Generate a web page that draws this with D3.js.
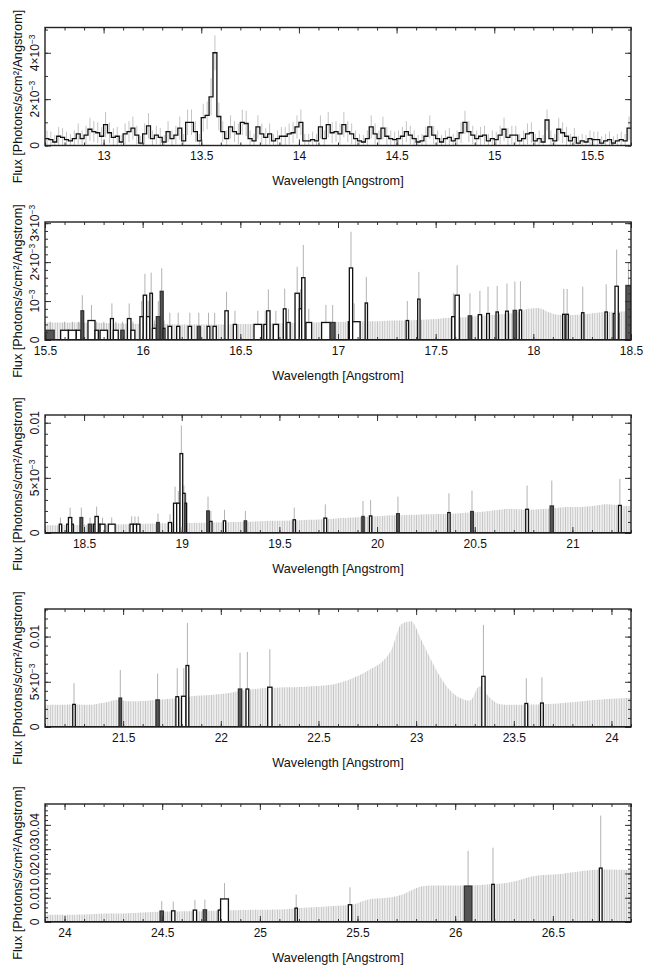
<!DOCTYPE html>
<html>
<head>
<meta charset="utf-8">
<script src="https://cdn.jsdelivr.net/npm/d3@7"></script>
<style>
  body { margin: 0; background: #fff; }
</style>
</head>
<body>
<div id="chart"></div>
<script>
// wavelength range of each panel (Angstrom)
const ranges = [[12.7, 15.7], [15.5, 18.5], [18.3, 21.3], [21.1, 24.1], [23.9, 26.9]];
// flux axis top, in units of 1e-3 photons/s/cm2/A
const yMax = [5.09, 3.03, 10.7, 13.05, 48.6];
const yMinor = [1, 0.2, 1, 1, 2];
const yLabelVals = [[0, 2, 4], [0, 1, 2, 3], [0, 5, 10], [0, 5, 10], [0, 10, 20, 30, 40]];
const yLabelText = [
  ['0', '2×10^−3', '4×10^−3'],
  ['0', '10^−3', '2×10^−3', '3×10^−3'],
  ['0', '5×10^−3', '0.01'],
  ['0', '5×10^−3', '0.01'],
  ['0', '0.01', '0.02', '0.03', '0.04']
];

// panel 1: full histogram, 0.02 A bins starting at 12.7
const p1Start = 12.7, p1Bin = 0.02;
const p1Flux = [
  0.3,0.25,0.15,0.4,0.35,0.25,0.2,0.3,0.5,0.3,
  0.45,0.7,0.6,0.55,0.4,0.9,0.55,0.35,0.4,0.15,
  0.5,0.6,0.75,0.45,0.1,0.5,0.85,0.3,0.45,0.35,
  0.15,0.6,0.3,0.45,0.75,0.2,1.0,1.0,0.6,0.2,
  1.2,1.3,2.1,4.0,1.25,0.6,0.3,0.8,0.6,0.5,
  1.0,0.95,0.3,0.2,0.8,0.5,0.35,0.5,0.2,0.3,
  0.4,0.4,0.5,0.55,0.8,1.0,0.2,0.2,0.25,0.2,
  0.8,0.3,0.9,0.55,0.6,0.5,0.9,0.6,0.5,0.3,
  0.2,0.15,0.3,0.8,0.5,0.3,0.75,0.4,0.3,0.25,
  0.3,0.4,0.6,0.45,0.3,0.15,0.2,0.4,0.8,0.45,
  0.3,0.15,0.3,0.35,0.2,0.3,0.55,1.0,0.6,0.45,
  0.3,0.4,0.45,0.2,0.3,0.25,0.45,0.7,0.35,0.45,
  0.45,0.2,0.3,0.5,0.55,0.2,0.3,0.15,1.1,0.3,
  0.2,0.7,0.55,0.4,0.2,0.35,0.1,0.2,0.15,0.3,
  0.25,0.25,0.1,0.2,0.25,0.1,0.2,0.25,0.2,0.75
];
const p1Err = [
  0.35,0.35,0.3,0.4,0.4,0.35,0.3,0.35,0.45,0.35,
  0.4,0.5,0.45,0.45,0.4,0.55,0.45,0.4,0.4,0.3,
  0.45,0.45,0.5,0.4,0.3,0.45,0.55,0.35,0.4,0.4,
  0.3,0.45,0.35,0.4,0.5,0.3,0.55,0.55,0.45,0.3,
  0.6,0.6,0.8,0.75,0.6,0.45,0.35,0.5,0.45,0.45,
  0.55,0.55,0.35,0.3,0.5,0.45,0.4,0.45,0.3,0.35,
  0.4,0.4,0.45,0.45,0.5,0.55,0.3,0.3,0.35,0.3,
  0.5,0.35,0.55,0.45,0.45,0.45,0.55,0.45,0.45,0.35,
  0.3,0.3,0.35,0.5,0.45,0.35,0.5,0.4,0.35,0.35,
  0.35,0.4,0.45,0.4,0.35,0.3,0.3,0.4,0.5,0.4,
  0.35,0.3,0.35,0.4,0.3,0.35,0.45,0.5,0.45,0.4,
  0.35,0.4,0.4,0.3,0.35,0.35,0.4,0.5,0.4,0.4,
  0.4,0.3,0.35,0.45,0.45,0.3,0.35,0.3,0.45,0.35,
  0.3,0.5,0.45,0.4,0.3,0.4,0.3,0.3,0.3,0.35,
  0.35,0.35,0.3,0.3,0.35,0.3,0.3,0.35,0.3,0.5
];

// panels 2-5: upper limit envelope of empty bins, 0.05 A steps from panel start
const envStep = 0.05;
const env2 = [
  0.45,0.45,0.45,0.45,0.44,0.44,0.43,0.43,0.42,0.42,
  0.42,0.41,0.41,0.40,0.40,0.40,0.40,0.40,0.40,0.41,
  0.41,0.42,0.42,0.43,0.43,0.44,0.44,0.45,0.46,0.46,
  0.47,0.47,0.48,0.48,0.49,0.50,0.50,0.51,0.52,0.53,
  0.55,0.57,0.58,0.60,0.62,0.64,0.66,0.68,0.72,0.80,
  0.82,0.72,0.65,0.64,0.65,0.67,0.70,0.72,0.73,0.74
];
const env3 = [
  0.7,0.7,0.72,0.72,0.74,0.74,0.76,0.78,0.8,0.82,
  0.84,0.86,0.88,0.9,0.9,0.92,0.94,0.96,0.98,1.0,
  1.02,1.05,1.08,1.1,1.12,1.15,1.18,1.2,1.25,1.3,
  1.35,1.4,1.45,1.5,1.55,1.6,1.62,1.65,1.68,1.7,
  1.72,1.75,1.8,1.85,1.9,2.0,2.1,2.2,2.15,2.1,
  2.15,2.2,2.3,2.35,2.35,2.4,2.5,2.6,2.55,2.45
];
const env4 = [
  2.45,2.45,2.5,2.5,2.45,2.6,2.8,3.0,2.85,2.85,
  2.9,3.0,3.1,3.15,3.3,3.45,3.5,3.6,3.7,3.9,
  4.1,4.2,4.3,4.35,4.4,4.4,4.45,4.5,4.6,4.7,
  5.0,5.4,5.9,6.5,7.2,8.6,11.4,11.7,9.7,7.5,
  5.5,4.0,3.2,2.9,4.5,3.3,2.55,2.45,2.45,2.5,
  2.5,2.55,2.6,2.7,2.8,2.9,3.0,3.1,3.15,3.2
];
const env5 = [
  3.0,3.0,3.0,3.1,3.2,3.4,3.5,3.5,3.6,3.8,
  4.0,4.2,4.3,4.3,4.4,4.4,4.5,4.6,4.7,4.8,
  4.9,5.0,5.0,5.1,5.3,5.6,5.9,6.1,6.3,6.6,
  6.8,7.1,8.5,9.6,9.8,10.2,11.2,13.0,14.6,15.0,
  15.0,15.0,15.0,15.0,15.2,15.5,15.8,16.3,17.2,18.4,
  19.2,19.5,19.7,20.2,20.7,21.2,21.5,21.6,21.5,21.5
];

// detected bins: [from, to, flux, error top, kind]
const det2 = [
  [15.505,15.547,0.25,0.47,'g'], [15.58,15.62,0.25,0.47,'k'], [15.62,15.66,0.25,0.47,'k'],
  [15.66,15.684,0.25,0.47,'k'], [15.684,15.698,0.75,1.15,'g'], [15.72,15.756,0.5,0.9,'k'],
  [15.756,15.773,0.25,0.47,'k'], [15.782,15.82,0.25,0.47,'k'], [15.835,15.85,0.55,0.94,'k'],
  [15.85,15.875,0.25,0.47,'k'], [15.888,15.905,0.25,0.47,'g'], [15.922,15.94,0.55,0.94,'k'],
  [15.94,15.96,0.25,0.47,'k'], [15.986,16.003,0.6,1.0,'k'], [16.003,16.02,1.15,1.7,'k'],
  [16.02,16.037,0.6,1.0,'k'], [16.037,16.05,1.2,1.73,'k'], [16.05,16.07,0.3,0.5,'k'],
  [16.07,16.09,0.6,1.0,'g'], [16.09,16.105,1.25,1.84,'g'], [16.105,16.114,0.3,0.5,'k'],
  [16.13,16.148,0.35,0.7,'k'], [16.174,16.19,0.35,0.7,'k'], [16.233,16.25,0.35,0.7,'k'],
  [16.28,16.295,0.35,0.7,'g'], [16.33,16.344,0.35,0.7,'k'], [16.36,16.377,0.35,0.7,'k'],
  [16.421,16.438,0.75,1.24,'k'], [16.464,16.481,0.4,0.75,'k'], [16.57,16.609,0.4,0.75,'k'],
  [16.62,16.635,0.4,0.75,'k'], [16.635,16.652,0.75,1.3,'k'], [16.669,16.695,0.4,0.75,'k'],
  [16.72,16.734,0.8,1.32,'k'], [16.738,16.755,0.45,0.8,'k'], [16.78,16.802,1.2,1.88,'k'],
  [16.802,16.814,0.8,1.3,'k'], [16.814,16.831,1.6,2.44,'k'], [16.836,16.865,0.45,0.8,'k'],
  [16.916,16.96,0.45,0.9,'k'], [16.96,16.985,0.45,0.9,'g'], [17.053,17.113,0.47,0.94,'k'],
  [17.058,17.075,1.85,2.78,'k'], [17.139,17.151,0.95,1.62,'k'], [17.349,17.361,0.5,1.0,'k'],
  [17.408,17.42,1.05,1.75,'k'], [17.582,17.599,0.6,1.2,'k'], [17.599,17.621,1.15,1.92,'k'],
  [17.667,17.684,0.62,1.2,'g'], [17.718,17.735,0.65,1.26,'k'], [17.761,17.775,0.68,1.37,'k'],
  [17.809,17.821,0.72,1.39,'k'], [17.858,17.872,0.74,1.45,'k'], [17.897,17.914,0.76,1.5,'g'],
  [17.928,17.94,0.77,1.51,'k'], [18.15,18.162,0.66,1.31,'k'], [18.167,18.179,0.66,1.31,'k'],
  [18.247,18.259,0.7,1.37,'k'], [18.367,18.379,0.72,1.43,'k'], [18.409,18.438,0.68,1.3,'k'],
  [18.418,18.435,1.38,2.32,'k'], [18.474,18.5,1.4,2.0,'g']
];
const det3 = [
  [18.373,18.385,0.8,1.4,'k'], [18.411,18.445,0.8,1.5,'k'], [18.42,18.437,1.4,2.3,'k'],
  [18.479,18.493,1.4,2.3,'g'], [18.522,18.539,0.8,1.4,'g'], [18.548,18.582,0.8,1.4,'k'],
  [18.556,18.573,1.5,2.4,'k'], [18.582,18.607,0.8,1.4,'k'], [18.624,18.659,0.8,1.4,'k'],
  [18.735,18.752,0.8,1.5,'k'], [18.752,18.769,0.8,1.5,'k'], [18.769,18.786,0.8,1.5,'k'],
  [18.872,18.885,0.95,1.75,'g'], [18.932,18.948,0.95,1.7,'k'], [18.958,18.974,2.7,4.2,'k'],
  [18.974,18.991,2.7,3.8,'k'], [18.991,19.005,7.2,9.75,'k'], [19.005,19.017,3.6,4.3,'k'],
  [19.017,19.025,2.7,3.6,'k'], [19.128,19.141,2.0,3.3,'g'], [19.143,19.155,1.05,2.0,'k'],
  [19.213,19.225,1.1,2.1,'k'], [19.32,19.332,1.1,2.0,'g'], [19.57,19.582,1.2,2.3,'k'],
  [19.728,19.742,1.35,2.6,'k'], [19.922,19.934,1.5,2.9,'g'], [19.961,19.973,1.55,3.0,'k'],
  [20.1,20.114,1.75,3.3,'g'], [20.362,20.374,1.85,3.6,'k'], [20.479,20.493,1.95,3.85,'g'],
  [20.761,20.775,2.15,4.3,'k'], [20.886,20.903,2.45,4.75,'g'], [21.236,21.25,2.5,4.9,'k']
];
const det4 = [
  [21.242,21.255,2.5,4.85,'k'], [21.479,21.492,3.2,6.3,'g'], [21.668,21.685,3.0,5.9,'g'],
  [21.77,21.784,3.35,6.5,'k'], [21.799,21.822,3.4,6.5,'k'], [21.822,21.836,6.8,11.5,'k'],
  [22.09,22.107,4.2,8.2,'g'], [22.129,22.143,4.2,8.3,'k'], [22.24,22.262,4.4,8.6,'k'],
  [23.336,23.353,5.6,11.3,'k'], [23.557,23.571,2.6,5.4,'k'], [23.637,23.651,2.65,5.5,'k']
];
const det5 = [
  [24.489,24.506,4.5,8.6,'g'], [24.548,24.565,4.6,8.4,'k'], [24.659,24.676,4.9,9.1,'k'],
  [24.71,24.727,5.0,9.2,'g'], [24.787,24.799,4.9,5.5,'k'], [24.799,24.839,9.5,16,'k'],
  [25.18,25.192,5.7,11.3,'k'], [25.453,25.47,7.1,14.3,'k'], [26.047,26.085,14.8,29.3,'g'],
  [26.187,26.2,15.5,30.6,'k'], [26.738,26.752,22.2,43.8,'k']
];

const envs = [null, env2, env3, env4, env5];
const dets = [null, det2, det3, det4, det5];

const FONT = '"Liberation Sans", Arial, Helvetica, sans-serif';
const left = 45, right = 631, plotH = 118;
const tops = [27.5, 222, 415, 609, 804];
const pxPerA = (right - left) / 3;

const svg = d3.select('#chart').append('svg')
  .attr('width', 653)
  .attr('height', 972)
  .style('font-family', FONT);

const defs = svg.append('defs');
const pw = 0.0125 * pxPerA;
const pat = defs.append('pattern')
  .attr('id', 'hatch')
  .attr('patternUnits', 'userSpaceOnUse')
  .attr('x', left).attr('y', 0)
  .attr('width', pw).attr('height', 10);
pat.append('rect').attr('width', pw).attr('height', 10).attr('fill', '#eeeeee');
pat.append('rect').attr('width', 0.7).attr('height', 10).attr('fill', '#bcbcbc');

function addLabel(sel, str) {
  const parts = str.split('^');
  sel.append('tspan').text(parts[0]);
  if (parts[1]) sel.append('tspan').attr('font-size', 8.5).attr('dy', -4.5).text(parts[1]);
}

ranges.forEach((rg, p) => {
  const g = svg.append('g').attr('transform', `translate(0,${tops[p]})`);
  const x = d3.scaleLinear().domain(rg).range([left, right]);
  const y = d3.scaleLinear().domain([0, yMax[p]]).range([plotH, 0]);

  defs.append('clipPath').attr('id', 'clip' + p)
    .append('rect').attr('x', left).attr('y', 0)
    .attr('width', right - left).attr('height', plotH);
  const plot = g.append('g').attr('clip-path', `url(#clip${p})`);

  if (p === 0) {
    plot.selectAll('line.err')
      .data(p1Flux)
      .enter()
      .append('line')
      .attr('x1', (d, i) => x(p1Start + (i + 0.5) * p1Bin))
      .attr('x2', (d, i) => x(p1Start + (i + 0.5) * p1Bin))
      .attr('y1', (d, i) => y(Math.max(0, d - p1Err[i])))
      .attr('y2', (d, i) => y(d + p1Err[i]))
      .attr('stroke', '#c4c4c4')
      .attr('stroke-width', 1);

    const pts = p1Flux.map((d, i) => [p1Start + i * p1Bin, d]);
    pts.push([p1Start + p1Flux.length * p1Bin, p1Flux[p1Flux.length - 1]]);
    plot.append('path')
      .attr('d', d3.line().x(d => x(d[0])).y(d => y(d[1])).curve(d3.curveStepAfter)(pts))
      .attr('fill', 'none')
      .attr('stroke', '#111')
      .attr('stroke-width', 1.3);
  } else {
    const env = envs[p];
    const ept = env.map((v, k) => [rg[0] + (k + 0.5) * envStep, v]);
    ept.unshift([rg[0], env[0]]);
    ept.push([rg[1], env[env.length - 1]]);
    plot.append('path')
      .attr('d', d3.area().x(d => x(d[0])).y0(y(0)).y1(d => y(d[1])).curve(d3.curveMonotoneX)(ept))
      .attr('fill', 'url(#hatch)');

    plot.selectAll('line.err')
      .data(dets[p])
      .enter()
      .append('line')
      .attr('x1', d => x((d[0] + d[1]) / 2))
      .attr('x2', d => x((d[0] + d[1]) / 2))
      .attr('y1', y(0))
      .attr('y2', d => y(d[3]))
      .attr('stroke', '#a9a9a9')
      .attr('stroke-width', 0.9);

    plot.selectAll('rect.bin')
      .data(dets[p])
      .enter()
      .append('rect')
      .attr('x', d => x(d[0]))
      .attr('width', d => x(d[1]) - x(d[0]))
      .attr('y', d => y(d[2]))
      .attr('height', d => y(0) - y(d[2]))
      .attr('fill', d => d[4] === 'g' ? '#555' : '#fff')
      .attr('stroke', d => d[4] === 'g' ? '#333' : '#111')
      .attr('stroke-width', 1.3);

    plot.append('line')
      .attr('x1', left).attr('x2', right)
      .attr('y1', y(0)).attr('y2', y(0))
      .attr('stroke', '#111').attr('stroke-width', 2);
  }

  // ticks
  const minorX = d3.range(Math.ceil(rg[0] * 10 - 1e-6), Math.floor(rg[1] * 10 + 1e-6) + 1).map(v => v / 10);
  const majorX = d3.range(Math.ceil(rg[0] * 2 - 1e-6), Math.floor(rg[1] * 2 + 1e-6) + 1).map(v => v / 2);
  const nMinY = Math.floor(yMax[p] / yMinor[p] + 1e-6);
  const minorY = d3.range(0, nMinY + 1).map(k => k * yMinor[p]);

  function ticks(axis, tr) {
    const a = g.append('g').attr('transform', tr).call(axis);
    a.select('.domain').remove();
    a.selectAll('line').attr('stroke', '#333');
    a.attr('font-family', FONT).attr('font-size', 12);
    return a;
  }
  ticks(d3.axisBottom(x).tickValues(minorX).tickSize(-3).tickFormat(''), `translate(0,${plotH})`);
  ticks(d3.axisTop(x).tickValues(minorX).tickSize(-3).tickFormat(''), 'translate(0,0)');
  ticks(d3.axisTop(x).tickValues(majorX).tickSize(-6).tickFormat(''), 'translate(0,0)');
  const xb = ticks(d3.axisBottom(x).tickValues(majorX).tickSize(-6).tickPadding(6).tickFormat(d3.format('~g')),
    `translate(0,${plotH})`);
  xb.selectAll('text').attr('fill', '#111');

  ticks(d3.axisLeft(y).tickValues(minorY).tickSize(-3).tickFormat(''), `translate(${left},0)`);
  ticks(d3.axisRight(y).tickValues(minorY).tickSize(-3).tickFormat(''), `translate(${right},0)`);
  ticks(d3.axisLeft(y).tickValues(yLabelVals[p]).tickSize(-6).tickFormat(''), `translate(${left},0)`);
  ticks(d3.axisRight(y).tickValues(yLabelVals[p]).tickSize(-6).tickFormat(''), `translate(${right},0)`);

  // frame
  g.append('rect')
    .attr('x', left).attr('y', 0)
    .attr('width', right - left).attr('height', plotH)
    .attr('fill', 'none')
    .attr('stroke', '#222')
    .attr('stroke-width', 1.4);

  // y tick labels (rotated)
  yLabelVals[p].forEach((v, i) => {
    const t = g.append('text')
      .attr('transform', `translate(39,${y(v)}) rotate(-90)`)
      .attr('text-anchor', 'middle')
      .attr('font-size', 12)
      .attr('fill', '#111');
    addLabel(t, yLabelText[p][i]);
  });

  // axis titles
  g.append('text')
    .attr('x', (left + right) / 2)
    .attr('y', plotH + 39.5)
    .attr('text-anchor', 'middle')
    .attr('font-size', 12.7)
    .attr('fill', '#111')
    .text('Wavelength [Angstrom]');

  g.append('text')
    .attr('transform', `translate(21.5,${plotH / 2 + 10}) rotate(-90)`)
    .attr('text-anchor', 'middle')
    .attr('font-size', 12.7)
    .attr('fill', '#111')
    .text('Flux [Photons/s/cm²/Angstrom]');
});
</script>
</body>
</html>
